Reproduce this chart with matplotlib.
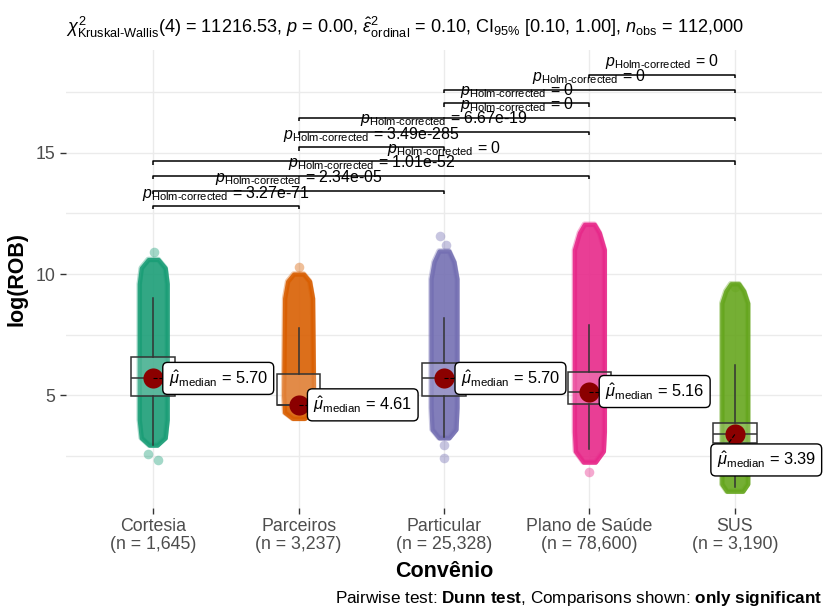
import numpy as np
import matplotlib.pyplot as plt

plt.rcParams['font.family'] = ['Liberation Sans', 'DejaVu Sans']
plt.rcParams['mathtext.fontset'] = 'custom'
plt.rcParams['mathtext.rm'] = 'Liberation Sans'
plt.rcParams['mathtext.it'] = 'Liberation Sans:italic'
plt.rcParams['mathtext.bf'] = 'Liberation Sans:bold'

# data
groups = ['Cortesia', 'Parceiros', 'Particular', 'Plano de Saúde', 'SUS']
n_obs = ['1,645', '3,237', '25,328', '78,600', '3,190']
colors = ['#1B9E77', '#D95F02', '#7570B3', '#E7298A', '#66A61E']

medians = [5.70, 4.61, 5.70, 5.16, 3.39]
q1 = [4.97, 4.61, 4.98, 4.64, 3.05]
q3 = [6.58, 5.88, 6.33, 5.96, 3.87]
whisk_lo = [2.95, 4.40, 3.30, 2.80, 1.23]
whisk_hi = [9.00, 7.78, 8.17, 7.90, 6.25]

# outline of each jittered point cloud: (y, half-width in px)
cloud_y = [
    [2.95, 3.25, 4.0, 9.6, 10.25, 10.6],
    [4.05, 4.3, 5.0, 9.0, 9.7, 10.0],
    [3.25, 3.6, 4.5, 9.8, 10.5, 10.95],
    [2.25, 2.7, 3.5, 11.0, 11.7, 12.05],
    [1.05, 1.35, 2.0, 8.8, 9.3, 9.6],
]
cloud_hw = [
    [4, 12, 14, 14, 12, 5],
    [6, 14, 15, 14, 11, 5],
    [5, 12, 13, 13, 10, 5],
    [6, 14, 15, 15, 10, 5],
    [8, 13, 13, 13, 9, 4],
]
# isolated points: group, x offset (px), y
out_g = [0, 0, 0, 1, 2, 2, 2, 2, 3, 4]
out_dx = [1, -5, 5, 0, -4, 2, 0, 0, 0, 0]
out_y = [10.9, 2.58, 2.33, 10.3, 11.55, 11.2, 2.95, 2.42, 1.85, 9.45]

# pairwise comparisons
pairs = [(0, 1), (0, 2), (0, 3), (0, 4), (1, 2), (1, 3), (1, 4), (2, 3), (2, 4), (3, 4)]
levels = [12.79, 13.42, 14.05, 14.64, 15.22, 15.85, 16.42, 17.03, 17.59, 18.21]
pvals = ['3.27e-71', '2.34e-05', '1.01e-52', '0', '3.49e-285', '6.67e-19', '0', '0', '0', '0']

# median label placement (x offset from group, y)
lab_dx = [0.105, 0.10, 0.115, 0.107, -0.125]
lab_y = [5.70, 4.61, 5.70, 5.16, 2.34]

px = 1 / 145.6  # one pixel in x data units

fig = plt.figure(figsize=(8.23, 6.10), dpi=100)
ax = fig.add_axes([0.0802, 0.1672, 0.9186, 0.7508])
ax.set_xlim(-0.6, 4.6)
ax.set_ylim(0.36, 19.23)

ax.set_yticks([5, 10, 15])
ax.set_yticks([2.5, 7.5, 12.5, 17.5], minor=True)
ax.grid(True, which='both', color='#EBEBEB', lw=1.0)
ax.set_axisbelow(True)
for s in ax.spines.values():
    s.set_visible(False)

xs = np.arange(len(groups))
for i in xs:
    y = np.array(cloud_y[i])
    hw = np.array(cloud_hw[i]) * px
    ax.fill_betweenx(y, i - hw, i + hw, color=colors[i], alpha=0.9, lw=3,
                     edgecolor=colors[i], zorder=2)
    ax.fill_betweenx(y, i - hw, i + hw, facecolor='none', lw=4,
                     edgecolor=colors[i], alpha=0.35, zorder=2)

for g, dx, yv in zip(out_g, out_dx, out_y):
    ax.scatter(g + dx * px, yv, s=48, color=colors[g], alpha=0.4, lw=0, zorder=2)

stats = [dict(med=medians[i], q1=q1[i], q3=q3[i], whislo=whisk_lo[i],
              whishi=whisk_hi[i], fliers=[]) for i in xs]
ax.bxp(stats, positions=xs, widths=0.3, patch_artist=True, showcaps=False,
       boxprops=dict(facecolor=(1, 1, 1, 0.2), edgecolor='#333333', lw=1.1),
       whiskerprops=dict(color='#333333', lw=1.1),
       medianprops=dict(color='#333333', lw=1.1), manage_ticks=False, zorder=3)

ax.scatter(xs, medians, s=210, color='#8B0000', zorder=4, lw=0)

for i in xs:
    ax.plot([i, i + lab_dx[i]], [medians[i], lab_y[i]], color='black', lw=0.8,
            ls='--', zorder=4)
    ax.text(i + lab_dx[i], lab_y[i],
            r'$\hat{\mu}_{\mathrm{median}}$' + ' = %.2f' % medians[i],
            fontsize=11.8, ha='left', va='center', zorder=5,
            bbox=dict(boxstyle='round,pad=0.35,rounding_size=0.3', fc='white',
                      ec='black', lw=1.0))

tip = 0.13
for (a, b), lv, pv in zip(pairs, levels, pvals):
    ax.plot([a, a, b, b], [lv - tip, lv, lv, lv - tip], color='black', lw=1.1,
            zorder=3, solid_capstyle='butt')
    ax.text((a + b) / 2, lv + 0.36,
            r'$\mathit{p}_{\mathrm{Holm}\text{-}\mathrm{corrected}}$' + ' = ' + pv,
            fontsize=11.4, ha='center', va='baseline', zorder=3)

ax.set_xticks(xs)
ax.set_xticklabels(['%s\n(n = %s)' % (g, n) for g, n in zip(groups, n_obs)],
                   fontsize=12.8, color='#4D4D4D', linespacing=1.05)
ax.tick_params(axis='y', labelsize=12.8, labelcolor='#4D4D4D')
ax.tick_params(which='major', length=4, width=1, color='#333333')
ax.tick_params(which='minor', length=0)
ax.set_xlabel('Convênio', fontsize=15.5, fontweight='bold', labelpad=6)
ax.set_ylabel('log(ROB)', fontsize=15.5, fontweight='bold', labelpad=6)

fig.text(0.0802, 0.955,
         r'$\chi^2_{\mathrm{Kruskal}\text{-}\mathrm{Wallis}}$(4) = 11216.53, $\mathit{p}$ = 0.00, '
         r'$\hat{\epsilon}^2_{\mathrm{ordinal}}$ = 0.10, CI$_{95\%}$ [0.10, 1.00], '
         r'$\mathit{n}_{\mathrm{obs}}$ = 112,000',
         fontsize=13.1, ha='left', va='center')
fig.text(0.9988, 0.003,
         r'Pairwise test: $\mathbf{Dunn\ test}$, Comparisons shown: $\mathbf{only\ significant}$',
         fontsize=12.3, ha='right', va='bottom')

fig.savefig('out.png', dpi=100)
